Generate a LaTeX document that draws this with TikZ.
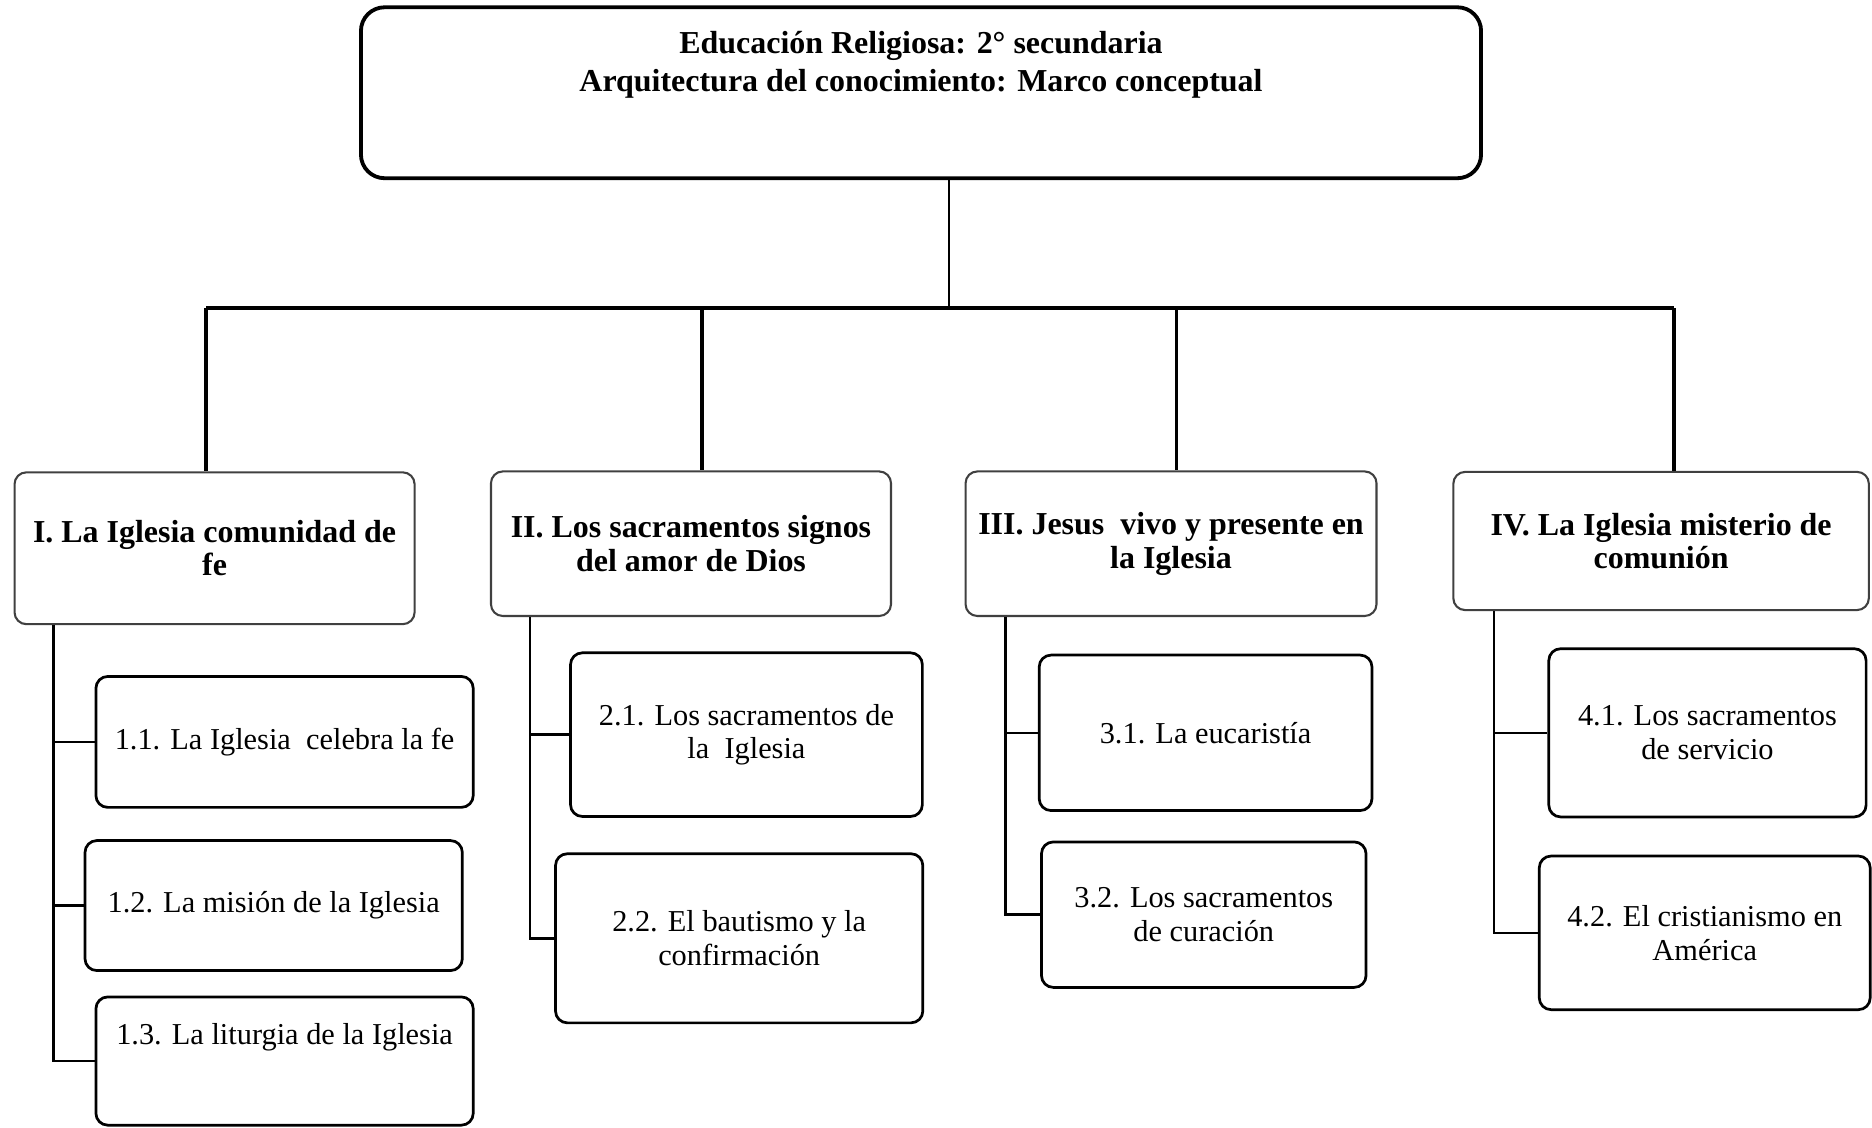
\documentclass[tikz,border=0pt]{standalone}
\usepackage{fontspec}
\setmainfont{Liberation Serif}
\usetikzlibrary{calc}

\begin{document}
\begin{tikzpicture}[
    headbox/.style={draw, line width=1.2pt, rounded corners=0.26cm, minimum width=12.32cm, minimum height=1.88cm},
    headtext/.style={align=center, font=\fontsize{10}{12}\selectfont\bfseries},
    unitbox/.style={draw=black!75, line width=0.65pt, rounded corners=0.13cm, align=center, font=\fontsize{10}{10.5}\selectfont\bfseries, inner sep=2pt},
    topicbox/.style={draw, line width=0.85pt, rounded corners=0.13cm, align=center, font=\fontsize{9.5}{10.5}\selectfont, inner sep=2pt},
    busline/.style={line width=1.2pt},
    branch/.style={line width=0.75pt}
]
    \useasboundingbox (0,0) rectangle (20.59,-12.40);

    \node[headbox] (head) at (10.13,-1.02) {};
    \node[headtext] (title) at (10.13,-0.71) {Educación Religiosa: 2° secundaria\\Arquitectura del conocimiento: Marco conceptual};

    \node[unitbox, minimum width=4.40cm, minimum height=1.67cm] (u1) at (2.36,-6.03) {I. La Iglesia comunidad de\\fe};
    \node[unitbox, minimum width=4.40cm, minimum height=1.59cm] (u2) at (7.60,-5.98) {II. Los sacramentos signos\\del amor de Dios};
    \node[unitbox, minimum width=4.52cm, minimum height=1.59cm] (u3) at (12.88,-5.98) {III. Jesus\ \ vivo y presente en\\la Iglesia};
    \node[unitbox, minimum width=4.57cm, minimum height=1.52cm] (u4) at (18.27,-5.95) {IV. La Iglesia misterio de\\comunión};

    \node[topicbox, minimum width=4.15cm, minimum height=1.44cm] (t11) at (3.13,-8.16) {1.1. La Iglesia\ \ celebra la fe};
    \node[topicbox, minimum width=4.15cm, minimum height=1.43cm] (t12) at (3.01,-9.96) {1.2. La misión de la Iglesia};
    \node[topicbox, minimum width=4.15cm, text height=0.45cm, text depth=0.82cm] (t13) at (3.13,-11.67) {1.3. La liturgia de la Iglesia};

    \node[topicbox, minimum width=3.87cm, minimum height=1.80cm] (t21) at (8.21,-8.08) {2.1. Los sacramentos de\\la\ \ Iglesia};
    \node[topicbox, minimum width=4.04cm, minimum height=1.86cm] (t22) at (8.13,-10.32) {2.2. El bautismo y la\\confirmación};

    \node[topicbox, minimum width=3.66cm, minimum height=1.71cm] (t31) at (13.26,-8.06) {3.1. La eucaristía};
    \node[topicbox, minimum width=3.57cm, minimum height=1.60cm] (t32) at (13.24,-10.06) {3.2. Los sacramentos\\de curación};

    \node[topicbox, minimum width=3.49cm, minimum height=1.85cm] (t41) at (18.78,-8.06) {4.1. Los sacramentos\\de servicio};
    \node[topicbox, minimum width=3.64cm, minimum height=1.69cm] (t42) at (18.75,-10.26) {4.2. El cristianismo en\\América};

    \coordinate (stem) at (10.44,-3.39);
    \coordinate (b1) at (2.27,-3.39);
    \coordinate (b2) at (7.72,-3.39);
    \coordinate (b3) at (12.94,-3.39);
    \coordinate (b4) at (18.41,-3.39);

    \draw[branch] (stem |- head.south) -- (stem);
    \draw[busline] (b1) -- (b4);
    \foreach \i in {1,...,4}
        \draw[busline] (b\i) -- (b\i |- u\i.north);

    \coordinate (r1) at ($(u1.south west)+(0.44,0)$);
    \coordinate (r2) at ($(u2.south west)+(0.44,0)$);
    \coordinate (r3) at ($(u3.south west)+(0.45,0)$);
    \coordinate (r4) at ($(u4.south west)+(0.46,0)$);

    \draw[branch] (r1) |- (t13.west);
    \draw[branch] (r1 |- t11.west) -- (t11.west);
    \draw[branch] (r1 |- t12.west) -- (t12.west);
    \draw[branch] (r2) |- (t22.west);
    \draw[branch] (r2 |- t21.west) -- (t21.west);
    \draw[branch] (r3) |- (t32.west);
    \draw[branch] (r3 |- t31.west) -- (t31.west);
    \draw[branch] (r4) |- (t42.west);
    \draw[branch] (r4 |- t41.west) -- (t41.west);
\end{tikzpicture}
\end{document}
